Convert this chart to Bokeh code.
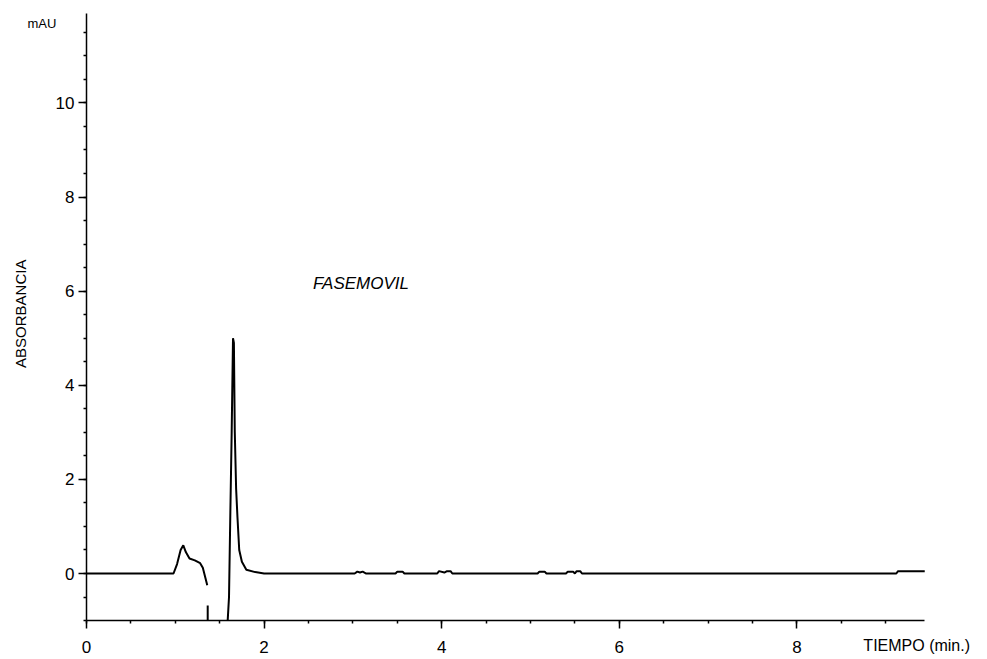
import math
from bokeh.plotting import figure
from bokeh.models import Range1d, SingleIntervalTicker, Label
from bokeh.embed import file_html
from bokeh.resources import INLINE

nan = math.nan

# Chromatogram trace (time in min, absorbance in mAU); NaN breaks the pen trace
time_min = [0.0, 0.98, 1.02, 1.06, 1.09, 1.12, 1.16, 1.22, 1.28, 1.31, 1.34, 1.36,
            nan, 1.365, 1.365,
            nan, 1.59, 1.605, 1.62, 1.635, 1.65, 1.66, 1.67, 1.685, 1.70, 1.72, 1.75,
            1.80, 1.90, 2.0,
            3.02, 3.05, 3.08, 3.11, 3.15, 3.48, 3.50, 3.56, 3.58,
            3.95, 3.97, 4.03, 4.06, 4.10, 4.12,
            5.08, 5.10, 5.16, 5.18,
            5.40, 5.42, 5.48, 5.50, 5.52, 5.56, 5.58,
            9.12, 9.14, 9.44]
absorbance = [0.0, 0.0, 0.2, 0.5, 0.6, 0.45, 0.32, 0.28, 0.22, 0.12, -0.1, -0.25,
              nan, -0.68, -1.0,
              nan, -1.0, -0.5, 1.3, 3.0, 5.0, 4.9, 3.0, 1.8, 1.2, 0.5, 0.25,
              0.08, 0.03, 0.0,
              0.0, 0.04, 0.02, 0.04, 0.0, 0.0, 0.04, 0.04, 0.0,
              0.0, 0.05, 0.02, 0.05, 0.05, 0.0,
              0.0, 0.04, 0.04, 0.0,
              0.0, 0.04, 0.04, 0.0, 0.05, 0.05, 0.0,
              0.0, 0.05, 0.05]

x_label = "TIEMPO  (min.)"
y_label = "ABSORBANCIA"
unit_label = "mAU"
peak_label = "FASEMOVIL"
time_axis = (0.0, 9.44)
abs_axis = (-1.0, 11.9)

# the frame covers the whole canvas; both axes float at fixed data locations
p = figure(width=980, height=658, output_backend="svg", toolbar_location=None,
           x_range=Range1d(-0.9685, 10.068), y_range=Range1d(-1.806, 12.176),
           min_border_left=0, min_border_right=0, min_border_top=0, min_border_bottom=0)
p.outline_line_color = None
p.xgrid.visible = False
p.ygrid.visible = False
p.background_fill_color = "white"

p.line(time_min, absorbance, line_color="black", line_width=2)

tick_font = "Liberation Sans"
for ax in (p.xaxis[0], p.yaxis[0]):
    ax.ticker = SingleIntervalTicker(interval=2, num_minor_ticks=4)
    ax.axis_line_color = "black"
    ax.axis_line_width = 1.5
    ax.major_tick_line_color = "black"
    ax.major_tick_line_width = 1.5
    ax.minor_tick_line_color = "black"
    ax.minor_tick_line_width = 1.5
    ax.major_tick_in = 0
    ax.major_tick_out = 8
    ax.minor_tick_in = 0
    ax.minor_tick_out = 3
    ax.major_label_text_font = tick_font
    ax.major_label_text_font_size = "17px"
    ax.major_label_text_color = "black"

p.xaxis[0].fixed_location = abs_axis[0]
p.xaxis[0].bounds = time_axis
p.xaxis[0].major_label_standoff = 12

p.yaxis[0].fixed_location = time_axis[0]
p.yaxis[0].bounds = abs_axis
p.yaxis[0].major_label_standoff = 4

p.add_layout(Label(x=-0.743, y=5.52, text=y_label, angle=math.pi / 2,
                   text_align="center", text_baseline="middle",
                   text_font="Liberation Sans", text_font_size="15px", text_color="black"))
p.add_layout(Label(x=10.0, y=-1.53, text=x_label, text_align="right",
                   text_baseline="middle", text_font="Liberation Sans",
                   text_font_size="16px", text_color="black"))
p.add_layout(Label(x=-0.664, y=11.69, text=unit_label, text_align="left",
                   text_baseline="middle", text_font="Liberation Sans",
                   text_font_size="13px", text_color="black"))
p.add_layout(Label(x=2.55, y=6.16, text=peak_label, text_align="left",
                   text_baseline="middle", text_font="Liberation Sans",
                   text_font_style="italic", text_font_size="17px", text_color="black"))

open("out.html", "w").write(file_html(p, INLINE))
